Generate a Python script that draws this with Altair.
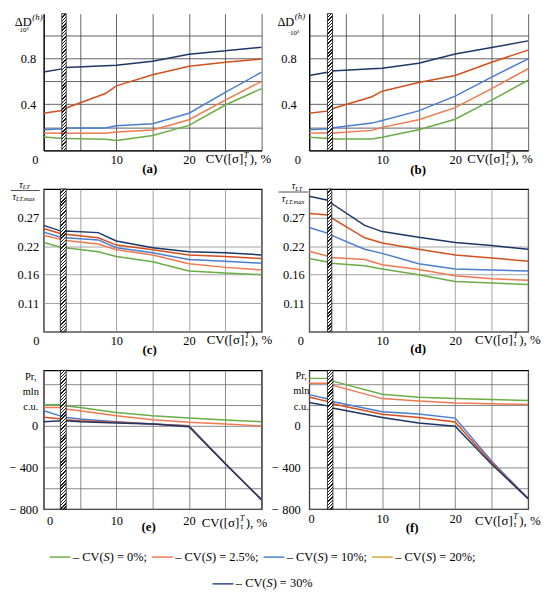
import altair as alt
import pandas as pd

FONT = "'Liberation Serif', 'Times New Roman', 'DejaVu Serif', serif"
SERIES = ["CV(S) = 0%", "CV(S) = 2.5%", "CV(S) = 10%", "CV(S) = 20%", "CV(S) = 30%"]
LEGEND_VALUES = ["0%;", "2.5%;", "10%;", "20%;", "30%"]
LEGEND_COLORS = ["#72b045", "#f27a50", "#4a82cf", "#dca43e", "#2c4a92"]

X_TICKS = [0, 5, 10, 15, 20, 25, 30]
X_LABELS = ["0", "", "10", "", "20", "", ""]
D_TICKS = [0, 0.2, 0.4, 0.6, 0.8, 1.0]
D_LABELS = ["", "", "0.4", "", "0.8", ""]
T_TICKS = [0.11, 0.165, 0.22, 0.275]
T_LABELS = ["0.11", "0.16", "0.22", "0.27"]
P_TICKS = [-800, -600, -400, -200, 0, 200, 400]
P_LABELS = ["\u2212 800", "", "\u2212 400", "", "0", "", ""]

# ---- panel (a): Delta D, CV(S) series
a_x = [0, 2.7, 3.0, 8.5, 10, 15, 20, 25, 30]
a_cv0 = [0.117, 0.103, 0.103, 0.097, 0.086, 0.129, 0.217, 0.394, 0.537]
a_cv25 = [0.151, 0.149, 0.149, 0.149, 0.160, 0.177, 0.266, 0.437, 0.600]
a_cv10 = [0.180, 0.189, 0.194, 0.194, 0.214, 0.231, 0.323, 0.503, 0.680]
a_cv20 = [0.323, 0.349, 0.366, 0.494, 0.560, 0.657, 0.731, 0.766, 0.794]
a_cv30 = [0.680, 0.710, 0.720, 0.735, 0.740, 0.775, 0.835, 0.865, 0.895]
a_hatch = [2.5, 3.1]

# ---- panel (b)
b_x = [0, 2.7, 3.0, 8.6, 10, 15, 20, 25, 30]
b_cv0 = [0.114, 0.103, 0.100, 0.100, 0.114, 0.180, 0.271, 0.437, 0.609]
b_cv25 = [0.151, 0.151, 0.149, 0.174, 0.200, 0.266, 0.371, 0.537, 0.709]
b_cv10 = [0.180, 0.189, 0.194, 0.237, 0.260, 0.343, 0.471, 0.637, 0.794]
b_cv20 = [0.323, 0.343, 0.360, 0.466, 0.514, 0.589, 0.651, 0.766, 0.871]
b_cv30 = [0.651, 0.680, 0.689, 0.708, 0.714, 0.757, 0.837, 0.894, 0.951]
b_hatch = [2.5, 3.2]

# ---- panel (c): tau ratio
c_x = [0, 2.6, 3.0, 7.5, 10, 15, 20, 25, 30]
c_cv0 = [0.227, 0.217, 0.217, 0.209, 0.200, 0.190, 0.172, 0.168, 0.165]
c_cv25 = [0.241, 0.232, 0.231, 0.224, 0.213, 0.203, 0.186, 0.179, 0.174]
c_cv10 = [0.247, 0.236, 0.236, 0.232, 0.217, 0.207, 0.194, 0.191, 0.187]
c_cv20 = [0.254, 0.243, 0.243, 0.236, 0.222, 0.213, 0.203, 0.200, 0.196]
c_cv30 = [0.260, 0.248, 0.249, 0.246, 0.230, 0.217, 0.209, 0.207, 0.203]
c_hatch = [2.3, 3.1]

# ---- panel (d)
d_x = [0, 2.7, 3.0, 7.6, 10, 15, 20, 25, 30]
d_cv0 = [0.196, 0.189, 0.187, 0.182, 0.176, 0.165, 0.152, 0.149, 0.146]
d_cv25 = [0.210, 0.200, 0.198, 0.194, 0.184, 0.175, 0.163, 0.157, 0.154]
d_cv10 = [0.256, 0.244, 0.241, 0.214, 0.206, 0.186, 0.176, 0.174, 0.172]
d_cv20 = [0.283, 0.280, 0.275, 0.236, 0.226, 0.214, 0.203, 0.197, 0.191]
d_cv30 = [0.316, 0.308, 0.303, 0.260, 0.248, 0.237, 0.227, 0.221, 0.214]
d_hatch = [2.5, 3.1]

# ---- panel (e): profit, mln c.u.
e_x = [0, 2.5, 2.9, 5, 10, 15, 20, 25, 30]
e_cv0 = [203, 203, 194, 178, 130, 98, 76, 57, 41]
e_cv25 = [178, 178, 162, 146, 98, 60, 35, 19, 0]
e_cv10 = [146, 92, 83, 67, 41, 19, 3, -362, -712]
e_cv20 = [83, 67, 60, 51, 35, 19, 0, -363, -712]
e_cv30 = [41, 51, 51, 41, 29, 19, -8, -364, -712]
e_hatch = [2.3, 3.1]

# ---- panel (f)
f_x = [0, 2.7, 3.0, 10, 15, 20, 25, 30]
f_cv0 = [453, 453, 431, 300, 272, 259, 250, 241]
f_cv25 = [406, 406, 391, 259, 237, 216, 209, 203]
f_cv10 = [297, 253, 234, 134, 112, 72, -340, -700]
f_cv20 = [275, 228, 212, 109, 78, 34, -355, -700]
f_cv30 = [222, 187, 172, 78, 25, -6, -370, -700]
f_hatch = [2.5, 3.25]

ONE = pd.DataFrame({"k": [0]})


def js(v):
    if isinstance(v, str):
        return "'" + v + "'"
    return repr(v)


def label_expr(ticks, labels):
    t = "[" + ",".join(js(v) for v in ticks) + "]"
    l = "[" + ",".join(js(v) for v in labels) + "]"
    return f"indexof({t}, datum.value) >= 0 ? {l}[indexof({t}, datum.value)] : ''"


def hatch_fill(w_px, h_px):
    r = w_px / h_px
    k = (r + 1) / (r * r + 1)
    n = max(1, round((w_px + h_px) / 3.3))
    stops = []
    dark = "#1e1e1e"
    for i in range(n):
        a0 = round(i / n, 5)
        b0 = round((i + 0.42) / n, 5)
        c0 = round((i + 1) / n, 5)
        stops += [{"offset": a0, "color": dark}, {"offset": b0, "color": dark},
                  {"offset": b0, "color": "#ffffff"}, {"offset": c0, "color": "#ffffff"}]
    return {"gradient": "linear", "x1": 0, "y1": 0, "x2": r * k, "y2": k, "stops": stops}


def txt(text, x, y, size=12, align="center", style="normal", weight="normal"):
    return alt.Chart(ONE).mark_text(
        text=text, fontSize=size, align=align, baseline="middle", font=FONT,
        fontStyle=style, fontWeight=weight, color="black"
    ).encode(x=alt.value(x), y=alt.value(y))


def hline(x1, x2, y, color="black", width=0.7):
    return alt.Chart(ONE).mark_rule(color=color, strokeWidth=width).encode(
        x=alt.value(x1), x2=alt.value(x2), y=alt.value(y))


def xtitle(sx, ty):
    p = sx + 38.5
    return [
        txt("CV([\u03c3]", p, ty, 13, "right"),
        txt("T", p + 0.5, ty - 4.5, 8.5, "left", "italic"),
        txt("\u03c4", p + 0.8, ty + 3.5, 8.5, "left", "italic"),
        txt("), %", p + 6.5, ty, 13, "left"),
    ]


def panel(x, series, colors, ydom, yt, yl, w, h, hatch, cfg):
    rows = []
    for name, vals in zip(SERIES, series):
        for xi, yi in zip(x, vals):
            rows.append({"x": xi, "y": yi, "s": name})
    df = pd.DataFrame(rows)
    frame = cfg["frame"]
    xaxis = alt.Axis(
        values=X_TICKS, labelExpr=label_expr(X_TICKS, X_LABELS), title=None, ticks=False,
        domain=not frame, domainColor="black", domainWidth=1.3,
        grid=True, gridColor=cfg["grid"], gridWidth=0.8,
        labelFont=FONT, labelFontSize=12.5, labelColor="black", labelPadding=cfg["xpad"],
        labelFlush=False, labelOverlap=False,
        labelOffset={"condition": {"test": "datum.value === 0", "value": cfg["x0off"]}, "value": 0},
    )
    yaxis = alt.Axis(
        values=yt, labelExpr=label_expr(yt, yl), title=None, ticks=False,
        domain=not frame, domainColor="black", domainWidth=1.3,
        grid=True, gridColor=cfg["grid"], gridWidth=0.8,
        labelFont=FONT, labelFontSize=12.5, labelColor="black", labelPadding=cfg["ypad"],
        labelOverlap=False,
    )
    xs = alt.Scale(domain=[0, 30], nice=False, zero=False)
    ys = alt.Scale(domain=ydom, nice=False, zero=False)
    lines = alt.Chart(df).mark_line(strokeWidth=1.5, clip=True).encode(
        x=alt.X("x:Q", scale=xs, axis=xaxis),
        y=alt.Y("y:Q", scale=ys, axis=yaxis),
        color=alt.Color("s:N", scale=alt.Scale(domain=SERIES, range=colors), legend=None),
    )
    hw = (hatch[1] - hatch[0]) * w / 30.0
    hdf = pd.DataFrame({"x": [hatch[0]], "x2": [hatch[1]]})
    band = alt.Chart(hdf).mark_rect(fill=hatch_fill(hw, h), stroke="#111111", strokeWidth=0.8).encode(
        x=alt.X("x:Q", scale=xs, axis=xaxis), x2="x2:Q", y=alt.value(0), y2=alt.value(h))
    layers = [lines, band]
    layers += xtitle(cfg["xt"][0], h + cfg["xt"][1])
    layers.append(txt(cfg["label"], cfg["pl"][0], h + cfg["pl"][1], 13, "center", "normal", "bold"))
    layers += cfg["extra"]
    view = alt.ViewBackground(stroke="black", strokeWidth=1.2) if frame else alt.ViewBackground(stroke="transparent")
    return alt.layer(*layers).properties(width=w, height=h, view=view)


def delta_title(rx, y, hy, cx, cy):
    return [
        txt("\u0394D", rx, y, 12.5, "right"),
        txt("(h)", rx + 0.5, hy, 9, "left", "italic"),
        txt("\u00b710\u00b3", cx, cy, 7, "center"),
    ]


def frac_title(ncx, ny, bx1, bx2, by, dcx, dy):
    return [
        txt("\u03c4", ncx - 1, ny, 10, "right", "italic"),
        txt("LT", ncx - 1, ny + 2.5, 6.5, "left", "italic"),
        hline(bx1, bx2, by),
        txt("\u03c4", dcx - 9, dy, 10, "right", "italic"),
        txt("LT.max", dcx - 9, dy + 2.5, 6.5, "left", "italic"),
    ]


def pr_title(cx, ys):
    return [txt(t, cx, y, 10.5, "center") for t, y in zip(["Pr,", "mln", "c.u."], ys)]


# ---- legend (built from the series names and colours), drawn below panel (e)
EM = {"\u2013": .5, " ": .25, "C": .667, "V": .722, "(": .333, ")": .333, "=": .564,
      "%": .833, ";": .278, ".": .25, "S": .5}
LS = 12.5


def tw(s):
    return sum(EM.get(ch, .5) for ch in s) * LS


def legend_layers(center, row_y):
    SW, GAP1, GAP2 = 21, 2.5, 5
    PRE, MID = "\u2013 CV(", "S"
    entries = [{"i": i, "row": 0 if i < 4 else 1} for i in range(5)]
    for e in entries:
        e["w"] = tw(PRE) + tw(MID) + tw(") = " + LEGEND_VALUES[e["i"]])
    out = []
    for row in (0, 1):
        ents = [e for e in entries if e["row"] == row]
        total = sum(SW + GAP1 + e["w"] for e in ents) + GAP2 * (len(ents) - 1)
        cur = center - total / 2
        for e in ents:
            y = row_y[row]
            out.append(hline(cur, cur + SW, y + 0.5, LEGEND_COLORS[e["i"]], 1.5))
            t0 = cur + SW + GAP1
            out.append(txt(PRE, t0, y, LS, "left"))
            out.append(txt(MID, t0 + tw(PRE), y, LS, "left", "italic"))
            out.append(txt(") = " + LEGEND_VALUES[e["i"]], t0 + tw(PRE) + tw(MID), y, LS, "left"))
            cur = t0 + e["w"] + GAP2
    return out


pa = panel(a_x, [a_cv0, a_cv25, a_cv10, a_cv20, a_cv30],
           ["#6aad45", "#f2794f", "#4a7ecf", "#d4501e", "#1c3768"],
           [0, 1.187], D_TICKS, D_LABELS, 220, 138, a_hatch,
           dict(frame=False, grid="#3c3c3c", xpad=3.5, x0off=-9, ypad=8, xt=(163, 9), pl=(107, 19),
                label="(a)", extra=delta_title(-12, 8, 3, -21, 16.5)))
pb = panel(b_x, [b_cv0, b_cv25, b_cv10, b_cv20, b_cv30],
           ["#6aad45", "#f2794f", "#4a7ecf", "#e06428", "#1c3768"],
           [0, 1.187], D_TICKS, D_LABELS, 221, 138, b_hatch,
           dict(frame=False, grid="#3c3c3c", xpad=3.5, x0off=-12, ypad=13, xt=(159, 9), pl=(110, 20),
                label="(b)", extra=delta_title(-15, 8, 2, -16, 19.5)))
pc = panel(c_x, [c_cv0, c_cv25, c_cv10, c_cv20, c_cv30],
           ["#6aad45", "#f06a48", "#19a7c9", "#c4452a", "#3b47a8"],
           [0.055, 0.33], T_TICKS, T_LABELS, 220, 144, c_hatch,
           dict(frame=True, grid="#8c8c8c", xpad=2.5, x0off=-8, ypad=5, xt=(164, 8), pl=(107, 18),
                label="(c)", extra=frac_title(-20, -4.5, -33, -4, 1.5, -19, 8)))
pd_ = panel(d_x, [d_cv0, d_cv25, d_cv10, d_cv20, d_cv30],
            ["#6aad45", "#f57d63", "#4ea6dc", "#c9431c", "#23395f"],
            [0.055, 0.33], T_TICKS, T_LABELS, 221, 144, d_hatch,
            dict(frame=True, grid="#8c8c8c", xpad=2.5, x0off=-9, ypad=5, xt=(167, 8), pl=(110, 17),
                 label="(d)", extra=frac_title(-13, -3, -31, -1, 3, -15, 10.5)))
pe = panel(e_x, [e_cv0, e_cv25, e_cv10, e_cv20, e_cv30],
           ["#77b857", "#f07f62", "#5a95d0", "#b9414a", "#2b3a6e"],
           [-800, 535], P_TICKS, P_LABELS, 220, 140, e_hatch,
           dict(frame=True, grid="#6a6a6a", xpad=5.5, x0off=6, ypad=6, xt=(159, 14), pl=(106, 18),
                label="(e)", extra=pr_title(-13, [7, 22, 37]) + legend_layers(221, [188, 215])))
pf = panel(f_x, [f_cv0, f_cv25, f_cv10, f_cv20, f_cv30],
           ["#6aad45", "#f07454", "#4f8fd0", "#9c3b2c", "#1e2f55"],
           [-800, 530], P_TICKS, P_LABELS, 221, 140, f_hatch,
           dict(frame=True, grid="#6a6a6a", xpad=4, x0off=2, ypad=9, xt=(167, 12), pl=(104, 19.5),
                label="(f)", extra=pr_title(-8, [6, 21, 37])))

chart = alt.concat(
    pa, pb, pc, pd_, pe, pf, columns=2,
    spacing=alt.RowColnumber(row=39, column=48), bounds="flush", align="each",
).properties(padding=0, background="white").configure_view(stroke="black", strokeWidth=1.2)

chart.save("out.html", embed_options={"renderer": "svg", "actions": False})
